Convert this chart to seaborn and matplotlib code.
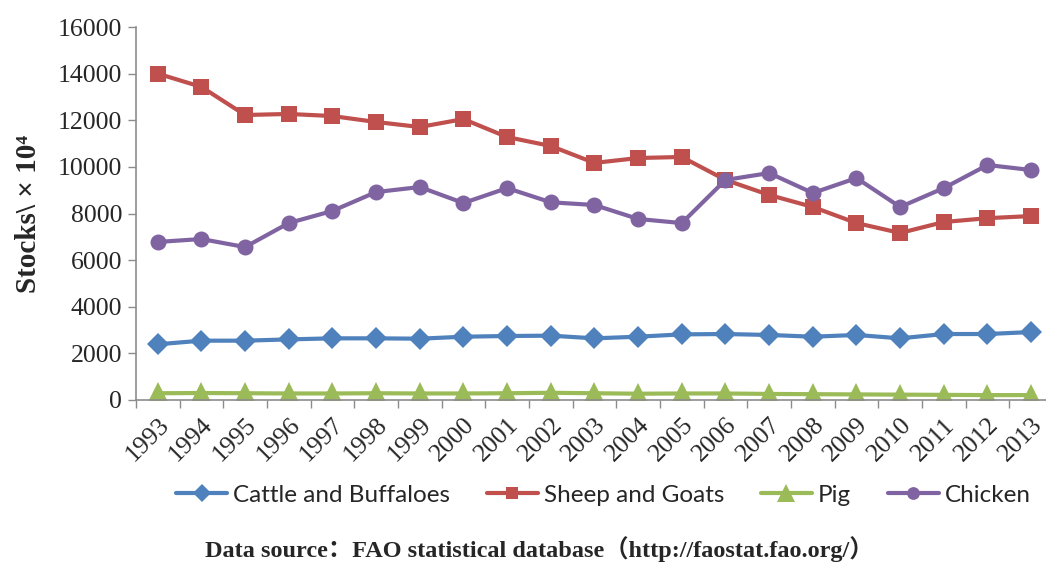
import numpy as np
import pandas as pd
import matplotlib
matplotlib.use("Agg")
import matplotlib.pyplot as plt
import seaborn as sns
from matplotlib.ticker import FixedLocator

years = list(range(1993, 2014))
cattle = [2390, 2545, 2545, 2600, 2645, 2645, 2630, 2715, 2745, 2760, 2645,
          2715, 2815, 2830, 2790, 2715, 2790, 2645, 2830, 2830, 2915]
sheep = [14000, 13430, 12225, 12270, 12180, 11925, 11710, 12050, 11280, 10895, 10170,
         10380, 10425, 9440, 8795, 8280, 7590, 7165, 7635, 7800, 7890]
pig = [290, 300, 290, 280, 280, 290, 280, 280, 290, 310, 290,
       270, 280, 280, 260, 250, 240, 230, 220, 210, 210]
chicken = [6780, 6905, 6560, 7590, 8110, 8920, 9135, 8450, 9090, 8480, 8365,
           7765, 7590, 9440, 9735, 8880, 9520, 8280, 9090, 10080, 9865]
series_names = ["Cattle and Buffaloes", "Sheep and Goats", "Pig", "Chicken"]
y_ticks = [0, 2000, 4000, 6000, 8000, 10000, 12000, 14000, 16000]

colors = ["#4F81BD", "#C0504D", "#9BBB59", "#8064A2"]
markers = ["D", "s", "^", "o"]
msizes = [11, 11.5, 16, 11.5]

df = pd.DataFrame({
    "Year": years * 4,
    "Stocks": cattle + sheep + pig + chicken,
    "Series": sum([[n] * len(years) for n in series_names], []),
})

sns.set_theme(style="white")
SERIF = ["Liberation Serif", "DejaVu Serif"]
plt.rcParams["font.family"] = SERIF

fig = plt.figure(figsize=(10.46, 5.62), dpi=100)
W, H = 1046, 562
x0, x1 = 135.9, 1053.0
y0, y1 = 400.0, 27.0
ax = fig.add_axes([x0 / W, 1 - y0 / H, (x1 - x0) / W, (y0 - y1) / H])

for name, c, m, ms in zip(series_names, colors, markers, msizes):
    sub = df[df["Series"] == name]
    sns.lineplot(data=sub, x="Year", y="Stocks", ax=ax, color=c, marker=m,
                 markersize=ms, markeredgewidth=0, linewidth=3.0, label=name,
                 legend=False)

ax.set_xlim(1992.5, 2013.5)
ax.set_ylim(0, 16000)
ax.set_yticks(y_ticks)
ax.set_yticklabels([str(v) for v in y_ticks], fontsize=18.5, fontfamily=SERIF)
ax.set_xticks(years)
ax.set_xticklabels([str(y) for y in years], rotation=45, ha="right",
                   rotation_mode="anchor", fontsize=18.5, fontfamily=SERIF)
ax.xaxis.set_minor_locator(FixedLocator([y + 0.5 for y in range(1992, 2014)]))
ax.tick_params(axis="x", which="major", length=0, pad=10)
ax.tick_params(axis="x", which="minor", length=6, width=1, color="#8C8C8C",
               direction="out", bottom=True)
ax.tick_params(axis="y", length=6, width=1, color="#8C8C8C", direction="out",
               left=True, pad=4)
for s in ["top", "right"]:
    ax.spines[s].set_visible(False)
for s in ["left", "bottom"]:
    ax.spines[s].set_color("#8C8C8C")
    ax.spines[s].set_linewidth(1.2)
ax.grid(False)
ax.set_xlabel("")
ax.set_ylabel("Stocks\\ × 10⁴", fontsize=21, fontweight="bold", fontfamily=SERIF)
ax.yaxis.set_label_coords((42 - x0) / (x1 - x0), (y0 - 214) / (y0 - y1))

handles, labels = ax.get_legend_handles_labels()
leg = fig.legend(handles, labels, loc="center", ncol=4,
                 bbox_to_anchor=(0.577, 1 - 495 / H), frameon=False,
                 prop={"family": "Lato", "size": 17.5}, handlelength=2.1,
                 handletextpad=0.25, columnspacing=1.5, markerscale=0.8)

fig.text(0.516, 1 - 549 / H,
         "Data source：FAO statistical database（http://faostat.fao.org/）",
         ha="center", va="center", fontsize=17.5, fontweight="bold",
         family=["Liberation Serif", "Noto Sans CJK SC"])

fig.savefig("out.png", dpi=100)
